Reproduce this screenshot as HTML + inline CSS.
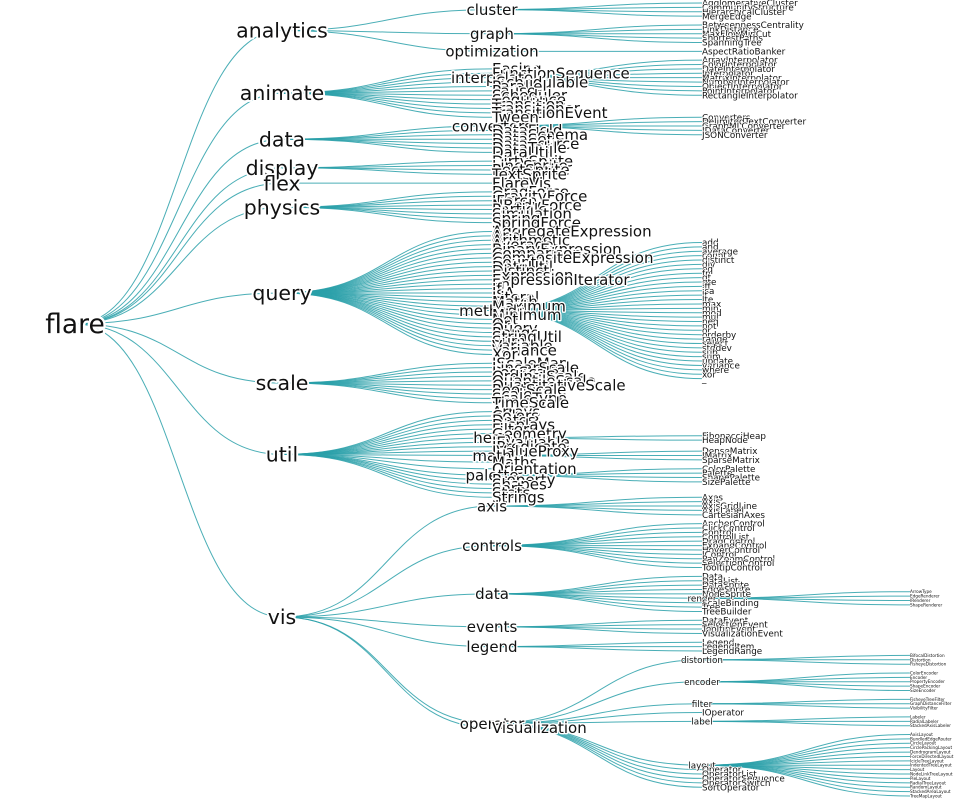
<!DOCTYPE html>
<html><head><meta charset="utf-8">
<style>
html,body{margin:0;padding:0;background:#fff;width:960px;height:800px;overflow:hidden}
svg{display:block}
text{font-family:"DejaVu Sans","Liberation Sans",sans-serif;fill:#111;paint-order:stroke;stroke:#fff;stroke-linejoin:round}
path{fill:none;stroke:#2aa0a9;stroke-opacity:.85;stroke-width:1}
</style></head>
<body>
<svg id="s" width="960" height="800" viewBox="0 0 960 800"><g id="L"></g><g id="T"></g></svg>
<script>
const D=["flare",[
["analytics",[["cluster",["AgglomerativeCluster","CommunityStructure","HierarchicalCluster","MergeEdge"]],["graph",["BetweennessCentrality","LinkDistance","MaxFlowMinCut","ShortestPaths","SpanningTree"]],["optimization",["AspectRatioBanker"]]]],
["animate",["Easing","FunctionSequence",["interpolate",["ArrayInterpolator","ColorInterpolator","DateInterpolator","Interpolator","MatrixInterpolator","NumberInterpolator","ObjectInterpolator","PointInterpolator","RectangleInterpolator"]],"ISchedulable","Parallel","Pause","Scheduler","Sequence","Transition","Transitioner","TransitionEvent","Tween"]],
["data",[["converters",["Converters","DelimitedTextConverter","GraphMLConverter","IDataConverter","JSONConverter"]],"DataField","DataSchema","DataSet","DataSource","DataTable","DataUtil"]],
["display",["DirtySprite","LineSprite","RectSprite","TextSprite"]],
["flex",["FlareVis"]],
["physics",["DragForce","GravityForce","IForce","NBodyForce","Particle","Simulation","Spring","SpringForce"]],
["query",["AggregateExpression","And","Arithmetic","Average","BinaryExpression","Comparison","CompositeExpression","Count","DateUtil","Distinct","Expression","ExpressionIterator","Fn","If","IsA","Literal","Match","Maximum",["methods",["add","and","average","count","distinct","div","eq","fn","gt","gte","iff","isa","lt","lte","max","min","mod","mul","neq","not","or","orderby","range","select","stddev","sub","sum","update","variance","where","xor","_"]],"Minimum","Not","Or","Query","Range","StringUtil","Sum","Variable","Variance","Xor"]],
["scale",["IScaleMap","LinearScale","LogScale","OrdinalScale","QuantileScale","QuantitativeScale","RootScale","Scale","ScaleType","TimeScale"]],
["util",["Arrays","Colors","Dates","Displays","Filter","Geometry",["heap",["FibonacciHeap","HeapNode"]],"IEvaluable","IPredicate","IValueProxy",["math",["DenseMatrix","IMatrix","SparseMatrix"]],"Maths","Orientation",["palette",["ColorPalette","Palette","ShapePalette","SizePalette"]],"Property","Shapes","Sort","Stats","Strings"]],
["vis",[["axis",["Axes","Axis","AxisGridLine","AxisLabel","CartesianAxes"]],["controls",["AnchorControl","ClickControl","Control","ControlList","DragControl","ExpandControl","HoverControl","IControl","PanZoomControl","SelectionControl","TooltipControl"]],["data",["Data","DataList","DataSprite","EdgeSprite","NodeSprite",["render",["ArrowType","EdgeRenderer","IRenderer","ShapeRenderer"]],"ScaleBinding","Tree","TreeBuilder"]],["events",["DataEvent","SelectionEvent","TooltipEvent","VisualizationEvent"]],["legend",["Legend","LegendItem","LegendRange"]],["operator",[["distortion",["BifocalDistortion","Distortion","FisheyeDistortion"]],["encoder",["ColorEncoder","Encoder","PropertyEncoder","ShapeEncoder","SizeEncoder"]],["filter",["FisheyeTreeFilter","GraphDistanceFilter","VisibilityFilter"]],"IOperator",["label",["Labeler","RadialLabeler","StackedAxisLabeler"]],["layout",["AxisLayout","BundledEdgeRouter","CircleLayout","CirclePackingLayout","DendrogramLayout","ForceDirectedLayout","IcicleTreeLayout","IndentedTreeLayout","Layout","NodeLinkTreeLayout","PieLayout","RadialTreeLayout","RandomLayout","StackedAreaLayout","TreeMapLayout"]],"Operator","OperatorList","OperatorSequence","OperatorSwitch","SortOperator"]],"Visualization"]]
]];
function mk(name,parent,depth,i){const n={name,parent,depth,i,children:null,A:null,z:0,m:0,c:0,s:0,t:null};n.a=n;return n;}
function build(d,parent,depth,i){const leaf=typeof d==="string";const n=mk(leaf?d:d[0],parent,depth,i);if(!leaf)n.children=d[1].map((c,j)=>build(c,n,depth+1,j));return n;}
const fake=mk(null,null,-1,0);
const root=build(D,fake,0,0);fake.children=[root];
const sep=(a,b)=>a.parent===b.parent?1:2;
const nextLeft=v=>v.children?v.children[0]:v.t;
const nextRight=v=>v.children?v.children[v.children.length-1]:v.t;
function moveSubtree(wm,wp,shift){const ch=shift/(wp.i-wm.i);wp.c-=ch;wp.s+=shift;wm.c+=ch;wp.z+=shift;wp.m+=shift;}
function executeShifts(v){let shift=0,change=0,c=v.children,i=c.length,w;while(--i>=0){w=c[i];w.z+=shift;w.m+=shift;shift+=w.s+(change+=w.c);}}
function nextAncestor(vim,v,anc){return vim.a.parent===v.parent?vim.a:anc;}
function apportion(v,w,anc){
 if(w){let vip=v,vop=v,vim=w,vom=vip.parent.children[0],sip=vip.m,sop=vop.m,sim=vim.m,som=vom.m,shift;
  while(vim=nextRight(vim),vip=nextLeft(vip),vim&&vip){
   vom=nextLeft(vom);vop=nextRight(vop);vop.a=v;
   shift=vim.z+sim-vip.z-sip+sep(vim,vip);
   if(shift>0){moveSubtree(nextAncestor(vim,v,anc),v,shift);sip+=shift;sop+=shift;}
   sim+=vim.m;sip+=vip.m;som+=vom.m;sop+=vop.m;}
  if(vim&&!nextRight(vop)){vop.t=vim;vop.m+=sim-sop;}
  if(vip&&!nextLeft(vom)){vom.t=vip;vom.m+=sip-som;anc=v;}
 }return anc;}
function firstWalk(v){const c=v.children,sib=v.parent.children,w=v.i?sib[v.i-1]:null;
 if(c){executeShifts(v);const mid=(c[0].z+c[c.length-1].z)/2;if(w){v.z=w.z+sep(v,w);v.m=v.z-mid;}else v.z=mid;}
 else if(w)v.z=w.z+sep(v,w);
 v.parent.A=apportion(v,w,v.parent.A||sib[0]);}
function secondWalk(v){v.x=v.z+v.parent.m;v.m+=v.parent.m;}
function eachAfter(n,f){if(n.children)n.children.forEach(c=>eachAfter(c,f));f(n);}
function eachBefore(n,f){f(n);if(n.children)n.children.forEach(c=>eachBefore(c,f));}
eachAfter(root,firstWalk);fake.m=-root.z;eachBefore(root,secondWalk);
let mn=1e9,mx=-1e9;eachBefore(root,n=>{mn=Math.min(mn,n.x);mx=Math.max(mx,n.x);});
const Y0=3,Y1=796,XS=[75,282,492,702,910],FS=[26.5,20.5,15,8.8,4.2];
eachBefore(root,n=>{n.py=Y0+(n.x-mn)/(mx-mn)*(Y1-Y0);n.px=XS[n.depth];});
const NS="http://www.w3.org/2000/svg",L=document.getElementById("L"),T=document.getElementById("T");
eachBefore(root,n=>{if(n.parent&&n.parent!==fake){const p=n.parent,m=(p.px+n.px)/2;
 const e=document.createElementNS(NS,"path");e.setAttribute("d",`M${p.px},${p.py}C${m},${p.py} ${m},${n.py} ${n.px},${n.py}`);L.appendChild(e);}});
eachBefore(root,n=>{const t=document.createElementNS(NS,"text");const fs=FS[n.depth];
 t.setAttribute("x",n.px);t.setAttribute("y",n.py);t.setAttribute("dy","0.35em");
 t.setAttribute("font-size",fs);t.setAttribute("stroke-width",Math.max(0.6,fs*0.18));
 t.setAttribute("text-anchor",n.children?"middle":"start");t.textContent=n.name;T.appendChild(t);});
</script>
</body></html>
